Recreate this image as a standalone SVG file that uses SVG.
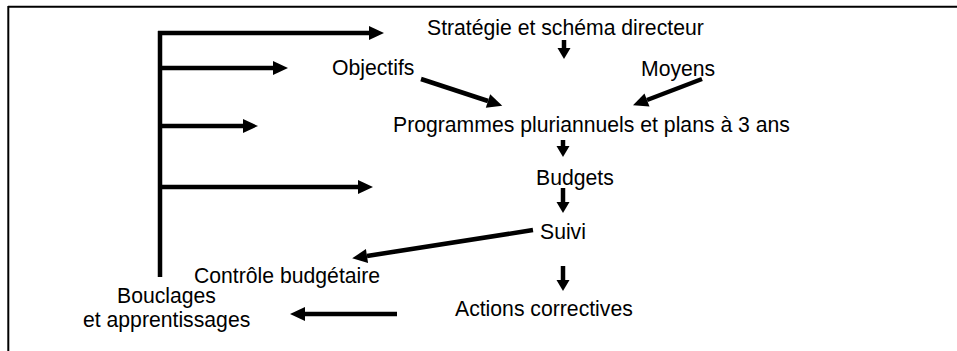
<svg xmlns="http://www.w3.org/2000/svg" width="957" height="351" viewBox="0 0 957 351">
<style>
text{font-family:"Liberation Sans",Arial,sans-serif;font-size:21.2px;fill:#000}
.c{stroke:#000;stroke-width:4.5;fill:none;stroke-linecap:butt}
.f{stroke:#000;stroke-width:2;fill:none}
</style>
<defs>
<marker id="big" markerUnits="userSpaceOnUse" markerWidth="16" markerHeight="16" refX="0" refY="7" orient="auto" overflow="visible">
<path d="M0,0 L15,7 L0,14 Z" fill="#000"/>
</marker>
<marker id="sm" markerUnits="userSpaceOnUse" markerWidth="14" markerHeight="14" refX="0" refY="6.5" orient="auto" overflow="visible">
<path d="M0,0 L11,6.5 L0,13 Z" fill="#000"/>
</marker>
</defs>
<rect width="957" height="351" fill="#fff"/>
<g id="frame">
<line class="f" x1="8" y1="6.8" x2="957" y2="6.8"/>
<line class="f" x1="8.3" y1="6" x2="8.3" y2="351"/>
</g>
<g id="n-strategie"><text x="427" y="35">Stratégie et schéma directeur</text></g>
<g id="n-objectifs"><text x="332" y="75">Objectifs</text></g>
<g id="n-moyens"><text x="641" y="76">Moyens</text></g>
<g id="n-programmes"><text x="393" y="132">Programmes pluriannuels et plans à 3 ans</text></g>
<g id="n-budgets"><text x="536" y="185">Budgets</text></g>
<g id="n-suivi"><text x="540" y="239">Suivi</text></g>
<g id="n-controle"><text x="194" y="283">Contrôle budgétaire</text></g>
<g id="n-actions"><text x="455" y="316">Actions correctives</text></g>
<g id="n-bouclages"><text x="117" y="303">Bouclages</text><text x="83" y="327">et apprentissages</text></g>
<g id="connectors">
<line class="c" x1="160" y1="31" x2="160" y2="277"/>
<line class="c" x1="158" y1="33" x2="369" y2="33" marker-end="url(#big)"/>
<line class="c" x1="160" y1="68" x2="273" y2="68" marker-end="url(#big)"/>
<line class="c" x1="160" y1="126" x2="243" y2="126" marker-end="url(#big)"/>
<line class="c" x1="160" y1="187" x2="358" y2="187" marker-end="url(#big)"/>
<line class="c" x1="564" y1="40" x2="564" y2="48" marker-end="url(#sm)"/>
<line class="c" x1="421" y1="79" x2="488" y2="101" marker-end="url(#big)"/>
<line class="c" x1="702" y1="79" x2="647" y2="100" marker-end="url(#big)"/>
<line class="c" x1="563" y1="140" x2="563" y2="146" marker-end="url(#sm)"/>
<line class="c" x1="563" y1="188" x2="563" y2="202" marker-end="url(#sm)"/>
<line class="c" x1="533" y1="230" x2="367" y2="256" marker-end="url(#big)"/>
<line class="c" x1="563" y1="266" x2="563" y2="280" marker-end="url(#sm)"/>
<line class="c" x1="397" y1="314" x2="305" y2="314" marker-end="url(#big)"/>
</g>
</svg>
